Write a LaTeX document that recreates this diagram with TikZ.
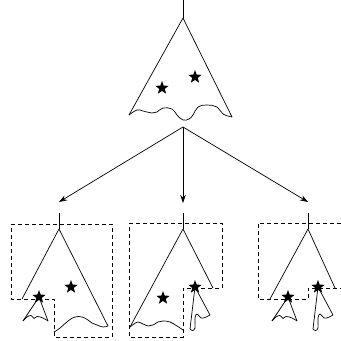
\documentclass[tikz,border=0pt]{standalone}
\usetikzlibrary{shapes.geometric,arrows.meta}
\begin{document}
\begin{tikzpicture}[x=1pt,y=-1pt,line width=0.7pt,line join=round,
  region/.style={dash pattern=on 4pt off 3pt,line width=0.7pt},
  mark star/.style={star,star points=5,star point ratio=2.4,fill=black,
    draw=none,inner sep=0pt,minimum size=14pt},
  link/.style={-{Stealth[length=8pt,width=5.5pt]},line width=0.7pt},
  cone/.pic={
    \draw plot[smooth,tension=0.7] coordinates
      {(-16,24) (-12,20) (-8,18.5) (-5,21.5) (-2,19.5) (4,21) (9,24)};
    \draw (-16,24) -- (0,0) -- (9,24);
  },
  finger/.pic={
    \draw plot[smooth,tension=0.6] coordinates
      {(-5,42) (-2.5,43.5) (0,41) (0,31) (2,27) (6,31) (10,30.5) (15,28)};
    \draw (-5,42) -- (0,0) -- (15,28);
  }]
\useasboundingbox (0,0) rectangle (341,341);

% whole tree
\coordinate (t0) at (183,0);
\coordinate (troot) at (183,18);
\draw (t0) -- (troot);
\draw (129,115) -- (troot) -- (232,117);
\draw plot[smooth,tension=0.7] coordinates {(129,115) (137,110) (143,111)
  (152,113) (157,112) (163,108) (172,109) (177,115) (183,120) (189,119)
  (193,115) (198,107) (207,105) (217,107) (223,114) (232,117)};
\node[mark star] (ts1) at (162,88) {};
\node[mark star] (ts2) at (195,77) {};

% arrows to the three pieces
\coordinate (fork) at (183,127);
\coordinate (la) at (59,202);
\coordinate (ma) at (183,203);
\coordinate (ra) at (308,202);
\draw[link] (fork) -- (la);
\draw[link] (fork) -- (ma);
\draw[link] (fork) -- (ra);

% left piece
\coordinate (l0) at (59,213);
\coordinate (lroot) at (59,229);
\draw (l0) -- (lroot);
\draw (22,299) -- (lroot) -- (108,326);
\draw plot[smooth,tension=0.7] coordinates {(54,332) (60,328) (68,321)
  (75,317) (82,317) (88,320) (92,323) (97,325) (103,327) (108,326)};
\draw[region] (11,224) -- (112,224) -- (112,337) -- (54,337) -- (54,299)
  -- (11,299) -- cycle;
\pic at (39,297) {cone};
\node[mark star] (ls1) at (39,297) {};
\node[mark star] (ls2) at (71,287) {};

% middle piece
\coordinate (m0) at (183,213);
\coordinate (mroot) at (183,229);
\draw (m0) -- (mroot);
\draw (130,327) -- (mroot) -- (213,288);
\draw plot[smooth,tension=0.7] coordinates {(130,327) (134,324) (138,322)
  (143,324) (148,326) (153,325) (158,322) (163,321) (170,322) (177,326)
  (183,330)};
\draw[region] (129,223) -- (222,223) -- (222,288) -- (183,288) -- (183,337)
  -- (129,337) -- cycle;
\pic at (195,287) {finger};
\node[mark star] (ms1) at (163,298) {};
\node[mark star] (ms2) at (195,287) {};

% right piece
\coordinate (r0) at (308,213);
\coordinate (rroot) at (308,229);
\draw (r0) -- (rroot);
\draw (270,299) -- (rroot) -- (335,288);
\draw[region] (341,223) -- (258,223) -- (258,299) -- (308,299) -- (308,288)
  -- (341,288);
\pic at (288,297) {cone};
\pic at (318,287) {finger};
\node[mark star] (rs1) at (288,297) {};
\node[mark star] (rs2) at (318,287) {};
\end{tikzpicture}
\end{document}
